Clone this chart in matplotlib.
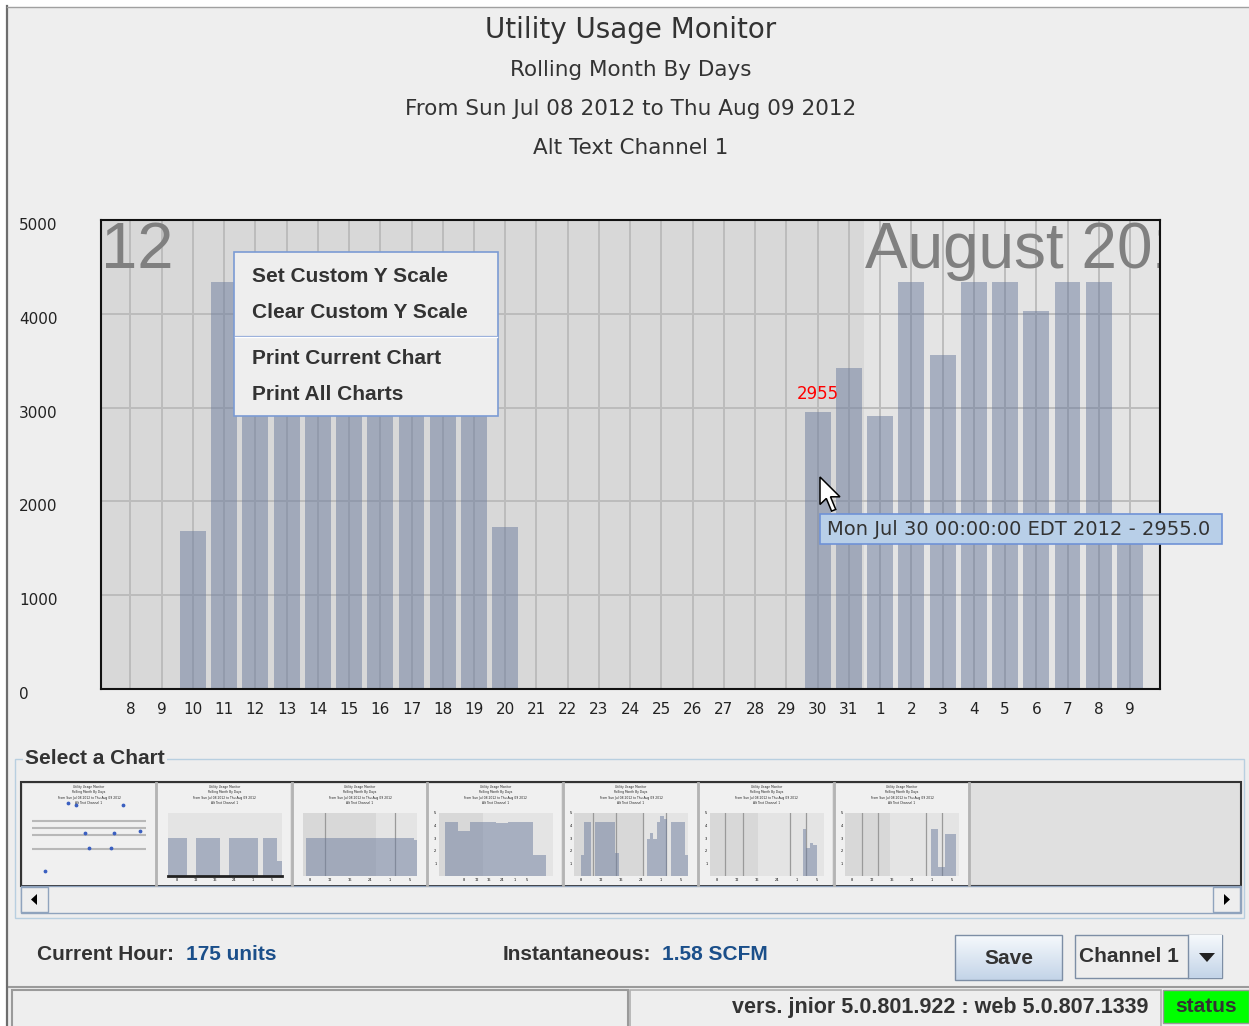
import matplotlib
matplotlib.use('Agg')
import matplotlib.pyplot as plt
import numpy as np
from matplotlib.patches import Rectangle, Polygon
from matplotlib.colors import LinearSegmentedColormap
from matplotlib.transforms import ScaledTranslation

W, H = 1249, 1026

# main chart data
days = ['8', '9', '10', '11', '12', '13', '14', '15', '16', '17', '18', '19', '20',
        '21', '22', '23', '24', '25', '26', '27', '28', '29', '30', '31',
        '1', '2', '3', '4', '5', '6', '7', '8', '9']
usage = [0, 0, 1680, 4340, 4340, 4340, 4340, 4340, 4340, 4340, 4340, 4340, 1730,
         0, 0, 0, 0, 0, 0, 0, 0, 0, 2955, 3425,
         2910, 4340, 3557, 4340, 4340, 4033, 4340, 4340, 1690]
y_ticks = [0, 1000, 2000, 3000, 4000, 5000]
hover_idx = 22
hover_stamp = 'Mon Jul 30 00:00:00 EDT 2012'
month_split = 23.5

title_lines = ['Utility Usage Monitor', 'Rolling Month By Days',
               'From Sun Jul 08 2012 to Thu Aug 09 2012', 'Alt Text Channel 1']
menu_items = ['Set Custom Y Scale', 'Clear Custom Y Scale',
              'Print Current Chart', 'Print All Charts']

# thumbnail data (fraction of plot height)
thumb1_levels = [0.64, 0.57, 0.50, 0.36]
thumb1_dots_x = [0.34, 0.40, 0.76, 0.47, 0.69, 0.89, 0.50, 0.67, 0.17]
thumb1_dots_y = [0.81, 0.79, 0.79, 0.52, 0.52, 0.54, 0.37, 0.37, 0.15]
thumb2_vals = [0.6, 0.6, 0.6, 0.6, 0, 0, 0.6, 0.6, 0.6, 0.6, 0.6, 0, 0,
               0.6, 0.6, 0.6, 0.6, 0.6, 0.6, 0, 0.6, 0.6, 0.6, 0.24]
thumb3_vals = [0, 0.6, 0.6, 0.6, 0.6, 0.6, 0.6, 0.6, 0.6, 0.6, 0.6, 0.6, 0.6, 0.6,
               0.6, 0.6, 0.6, 0.6, 0.6, 0.6, 0.6, 0.6, 0.6, 0.6, 0.6, 0.6, 0.6,
               0.6, 0.6, 0.6, 0.6, 0.6, 0.57]
thumb4_vals = [0.86, 0.71, 0.86, 0.86, 0.84, 0.86, 0.86, 0.33]
thumb5_vals = [0, 0, 0.33, 0.86, 0.86, 0, 0.86, 0.86, 0.86, 0.86, 0.86, 0.86, 0.36,
               0, 0, 0, 0, 0, 0, 0, 0, 0.58, 0.69, 0.58, 0.85, 0.95, 0.9, 0,
               0.86, 0.86, 0.86, 0.86, 0.33]
thumb6_vals = [0, 0, 0, 0, 0, 0, 0, 0, 0, 0, 0, 0, 0, 0, 0, 0, 0, 0, 0, 0, 0, 0,
               0, 0, 0, 0, 0, 0.75, 0.45, 0.53, 0.49, 0, 0]
thumb7_vals = [0, 0, 0, 0, 0, 0, 0, 0, 0, 0, 0, 0, 0, 0, 0, 0, 0, 0, 0, 0, 0, 0,
               0, 0, 0, 0.75, 0.75, 0.14, 0.14, 0.67, 0.67, 0.67, 0]

UI = 'Liberation Sans'
BAR = '#6b7b9d'


def px(x0, y0, x1, y1):
    return [x0 / W, 1 - y1 / H, (x1 - x0) / W, (y1 - y0) / H]


fig = plt.figure(figsize=(W / 100, H / 100), dpi=100, facecolor='white')

ui = fig.add_axes([0, 0, 1, 1])
ui.axis('off')

# window
ui.add_patch(Rectangle((8, 7), W - 8, H - 7, fc='#eeeeee', ec='none'))
ui.plot([7.5, 7.5], [6, H], color='#6e6e6e', lw=1.6)
ui.plot([7, W], [6.5, 6.5], color='#a0a0a0', lw=1)

for i, (t, y) in enumerate(zip(title_lines, [30, 70, 109, 148])):
    ui.text(631, y, t, ha='center', va='center', fontsize=20 if i == 0 else 15.5,
            color='#333333', family='DejaVu Sans')

# main chart
ax = fig.add_axes(px(101, 220, 1160, 689), zorder=2)
x = np.arange(len(days))
ax.set_facecolor('#e4e4e4')
ax.axvspan(-1, month_split, color='#d8d8d8', zorder=0, lw=0)
ax.bar(x, usage, width=0.83, color=BAR, alpha=0.5, zorder=2)
ax.set_xlim(-0.94, 32.96)
ax.set_ylim(0, 5000)
ax.set_xticks(x, days)
ax.set_yticks(y_ticks)
ax.set_axisbelow(True)
ax.grid(True, color='#bcbcbc', lw=1.4)
ax.tick_params(length=0, labelsize=11, labelcolor='#222222')
ax.tick_params(axis='x', pad=9)
ax.tick_params(axis='y', pad=59)
shift = ScaledTranslation(0, -4 / 100, fig.dpi_scale_trans)
for lbl in ax.get_yticklabels():
    lbl.set_ha('left')
    lbl.set_transform(lbl.get_transform() + shift)
for s in ax.spines.values():
    s.set_color('#111111')
    s.set_linewidth(1.5)
# month captions (the July one is scrolled off to the left, only "12" shows)
ax.text(-0.95, 4985, '12', ha='left', va='top', fontsize=47, family=UI,
        color='#808080', clip_on=True, zorder=1.5)
ax.text(month_split + 0.02, 4985, 'August 2012', ha='left', va='top', fontsize=46,
        family=UI, color='#808080', clip_on=True, zorder=1.5)
ax.annotate(str(usage[hover_idx]), (hover_idx, usage[hover_idx]), xytext=(0, 6),
            textcoords='offset points', ha='center', va='bottom', color='red',
            fontsize=12)

# select a chart group
ui.add_patch(Rectangle((15.5, 759), 1229, 159, fc='none', ec='#b8cfe0', lw=1))
ui.text(25, 759, 'Select a Chart', fontsize=15, fontweight='bold', family=UI,
        color='#333333', va='center',
        bbox=dict(fc='#eeeeee', ec='none', pad=1.5))
ui.add_patch(Rectangle((21, 782), 1220, 104, fc='#e0e0e0', ec='#333333', lw=1.5))

thumbs = [
    (thumb2_vals, (0, 24), None, [], False),
    (thumb3_vals, (0, 33), 21.1, [6.3, 26.7], False),
    (thumb4_vals, (-0.53, 8.53), 3.0, [], True),
    (thumb5_vals, (0, 33), 20.1, [5.6, 12.2, 20.1, 26.7], True),
    (thumb6_vals, (0, 33), 13.9, [4.6, 9.6, 23.4, 28.0], True),
    (thumb7_vals, (0, 33), 12.9, [4.9, 9.6, 23.4, 28.0], True),
]

for i in range(7):
    x0 = 21 + i * 135.5
    ui.add_patch(Rectangle((x0 + 2, 784), 132, 101, fc='#f0f0f0', ec='none'))
    ui.plot([x0 + 135.5, x0 + 135.5], [783, 885], color='#b4b4b4', lw=2)
    for t, y in zip(title_lines, [787, 792.5, 798, 803.5]):
        ui.text(x0 + 68, y, t, ha='center', va='center', fontsize=2.2,
                color='#222222', family='DejaVu Sans')
    if i == 0:
        tax = fig.add_axes(px(x0 + 2, 784, x0 + 134, 886), zorder=2)
        tax.axis('off')
        tax.set_xlim(0, 1)
        tax.set_ylim(0, 1)
        tax.hlines(thumb1_levels, 0.07, 0.93, color='#b8b8b8', lw=1.5)
        tax.scatter(thumb1_dots_x, thumb1_dots_y, s=3, color='#3a5fc0', zorder=3)
        continue
    vals, xl, split, vl, yt = thumbs[i - 1]
    tax = fig.add_axes(px(x0 + 11, 813, x0 + 125, 876), zorder=2)
    tax.set_facecolor('#e4e4e4')
    if split is not None:
        tax.axvspan(xl[0], split, color='#d8d8d8', lw=0, zorder=0)
    for v in vl:
        tax.axvline(v, color='#9a9a9a', lw=0.9, zorder=1)
    tax.bar(np.arange(len(vals)), vals, width=1.0, align='edge', color=BAR,
            alpha=0.5, zorder=2)
    tax.set_xlim(*xl)
    tax.set_ylim(0, 1)
    for s in tax.spines.values():
        s.set_visible(False)
    if i == 1:
        tax.spines['bottom'].set_visible(True)
        tax.spines['bottom'].set_linewidth(2)
        tax.spines['bottom'].set_color('#222222')
    tax.set_xticks(np.linspace(xl[0] + 2, xl[1] - 2, 6), ['8', '12', '16', '24', '1', '5'])
    if yt:
        tax.set_yticks([0.2, 0.4, 0.6, 0.8, 1.0], ['1', '2', '3', '4', '5'])
    else:
        tax.set_yticks([])
    tax.tick_params(length=0, labelsize=2.5, pad=1.5)

# scrollbar
ui.add_patch(Rectangle((21, 886), 1220, 27, fc='#eeeeee', ec='#8fa3bd', lw=1))
ui.add_patch(Rectangle((21, 887), 27, 25, fc='#eeeeee', ec='#8fa3bd', lw=1))
ui.add_patch(Rectangle((1213, 887), 27, 25, fc='#eeeeee', ec='#8fa3bd', lw=1))
ui.add_patch(Polygon([[31, 899.5], [37, 894], [37, 905]], closed=True, fc='black'))
ui.add_patch(Polygon([[1230, 899.5], [1224, 894], [1224, 905]], closed=True, fc='black'))

# readouts
ui.text(37, 955, 'Current Hour:', fontsize=15, fontweight='bold', family=UI,
        color='#333333', va='center')
ui.text(186, 955, '175 units', fontsize=15, fontweight='bold', family=UI,
        color='#1b4f8a', va='center')
ui.text(503, 955, 'Instantaneous:', fontsize=15, fontweight='bold', family=UI,
        color='#333333', va='center')
ui.text(662, 955, '1.58 SCFM', fontsize=15, fontweight='bold', family=UI,
        color='#1b4f8a', va='center')

# buttons
grad = LinearSegmentedColormap.from_list('btn', ['#f6f9fc', '#c3d4e8'])
g = np.linspace(0, 1, 60).reshape(-1, 1)
ui.imshow(g, cmap=grad, extent=(955, 1062, 980, 935), aspect='auto', zorder=1)
ui.add_patch(Rectangle((955, 935), 107, 45, fc='none', ec='#7d8ea5', lw=1, zorder=2))
ui.text(1008.5, 958, 'Save', fontsize=15, fontweight='bold', family=UI,
        color='#333333', ha='center', va='center', zorder=3)
ui.add_patch(Rectangle((1075, 935), 147, 43, fc='#eeeeee', ec='#7d8ea5', lw=1, zorder=1))
ui.imshow(g, cmap=grad, extent=(1188, 1222, 978, 935), aspect='auto', zorder=1.5)
ui.plot([1188, 1188], [935, 978], color='#7d8ea5', lw=1, zorder=2)
ui.text(1079, 957, 'Channel 1', fontsize=15, fontweight='bold', family=UI,
        color='#333333', va='center', zorder=3)
ui.add_patch(Polygon([[1199, 953], [1215, 953], [1207, 962]], closed=True,
                     fc='#222222', zorder=3))

# status bar
ui.plot([9, W], [986.5, 986.5], color='#9a9a9a', lw=1.5)
ui.add_patch(Rectangle((12, 990), 616, 38, fc='#eeeeee', ec='#9a9a9a', lw=1.5))
ui.add_patch(Rectangle((630, 990), 531, 38, fc='#eeeeee', ec='#b0b0b0', lw=1.2))
ui.add_patch(Rectangle((1163, 990), 86, 33, fc='#00ff00', ec='#9a9a9a', lw=1))
ui.text(1148, 1007, 'vers. jnior 5.0.801.922 : web 5.0.807.1339', fontsize=15.5,
        fontweight='bold', family=UI, color='#333333', ha='right', va='center')
ui.text(1206, 1007, 'status', fontsize=15, fontweight='bold', family=UI,
        color='#333333', ha='center', va='center')

ui.set_xlim(0, W)
ui.set_ylim(H, 0)

# popup layer
ov = fig.add_axes([0, 0, 1, 1], zorder=5)
ov.patch.set_alpha(0)
ov.axis('off')
ov.add_patch(Rectangle((234, 252), 264, 164, fc='#eeeeee', ec='#7b9bd4', lw=1.2))
ov.plot([235, 497], [335.5, 335.5], color='#8fa8d8', lw=0.9)
ov.plot([235, 497], [337, 337], color='white', lw=0.9)
for t, y in zip(menu_items, [276, 313, 358, 395]):
    ov.text(252, y, t, fontsize=15, fontweight='bold', family=UI,
            color='#333333', va='center')

ov.add_patch(Rectangle((820, 514), 402, 30, fc='#b8cfe8', ec='#6f92d6', lw=1.2))
ov.text(827, 529.5, f'{hover_stamp} - {usage[hover_idx]:.1f}', fontsize=14,
        family='DejaVu Sans', color='#333333', va='center')

tip = np.array([820, 477])
arrow = np.array([[0, 0], [0, 25], [6, 19.5], [11, 31], [15, 29.5], [10, 18], [19, 18]])
ov.add_patch(Polygon(arrow * [1.05, 1.1] + tip, closed=True, fc='white',
                     ec='black', lw=1.1))

ov.set_xlim(0, W)
ov.set_ylim(H, 0)

fig.savefig('out.png', dpi=100, facecolor=fig.get_facecolor())
